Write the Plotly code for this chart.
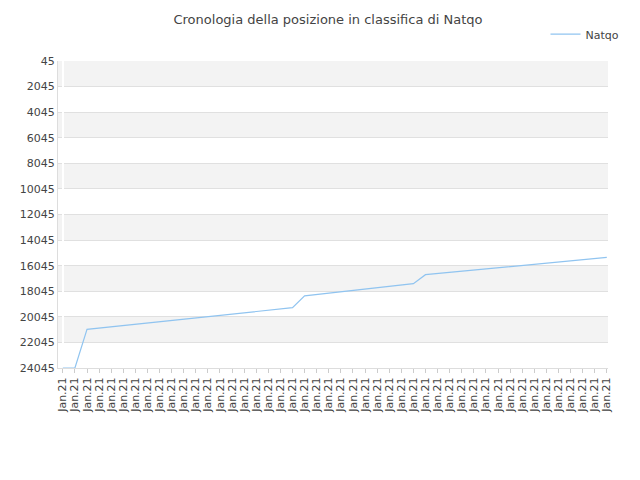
import plotly.graph_objects as go

dates = ["Jan.21"] * 46
positions = [24045, 24045,
             21030, 20930, 20830, 20730, 20630, 20530, 20430, 20330, 20230,
             20130, 20030, 19930, 19830, 19730, 19630, 19530, 19430, 19330,
             18400, 18300, 18200, 18100, 18000, 17900, 17800, 17700, 17600, 17450,
             16750, 16660, 16570, 16480, 16390, 16300, 16210, 16120, 16030,
             15940, 15850, 15760, 15670, 15580, 15490, 15400]
y_ticks = list(range(45, 24046, 2000))

x = list(range(len(dates)))

fig = go.Figure()
fig.add_trace(go.Scatter(x=x, y=positions, mode="lines", name="Natqo",
                         line=dict(color="#90c4f0", width=1.2)))

# alternating grey bands
shapes = []
for i in range(0, len(y_ticks) - 1, 2):
    shapes.append(dict(type="rect", xref="paper", yref="y", x0=0, x1=1,
                       y0=y_ticks[i], y1=y_ticks[i + 1], fillcolor="#f3f3f3",
                       line=dict(width=0), layer="below"))

fig.update_layout(
    width=640, height=480,
    title=dict(text="Cronologia della posizione in classifica di Natqo", x=0.5, y=0.985,
               yanchor="top", font=dict(size=13, color="#444")),
    font=dict(family="DejaVu Sans", size=11, color="#444"),
    margin=dict(l=50, r=40, t=41, b=120),
    plot_bgcolor="white", paper_bgcolor="white",
    shapes=shapes,
    showlegend=True,
    legend=dict(x=1.03, y=1.04, xanchor="right", yanchor="bottom", orientation="h",
                itemwidth=30, font=dict(size=11)),
    xaxis=dict(tickvals=x, ticktext=dates, tickangle=-90, range=[-0.4, 45.1],
               showgrid=False, showline=True, linecolor="#ddd", ticks="outside",
               ticklen=4, tickcolor="#ccc"),
    yaxis=dict(tickvals=y_ticks, ticktext=[str(v) for v in y_ticks],
               range=[24045, 45], showgrid=True, gridcolor="#e0e0e0",
               showline=True, linecolor="#ddd", zeroline=False),
)
fig.write_html("out.html")
